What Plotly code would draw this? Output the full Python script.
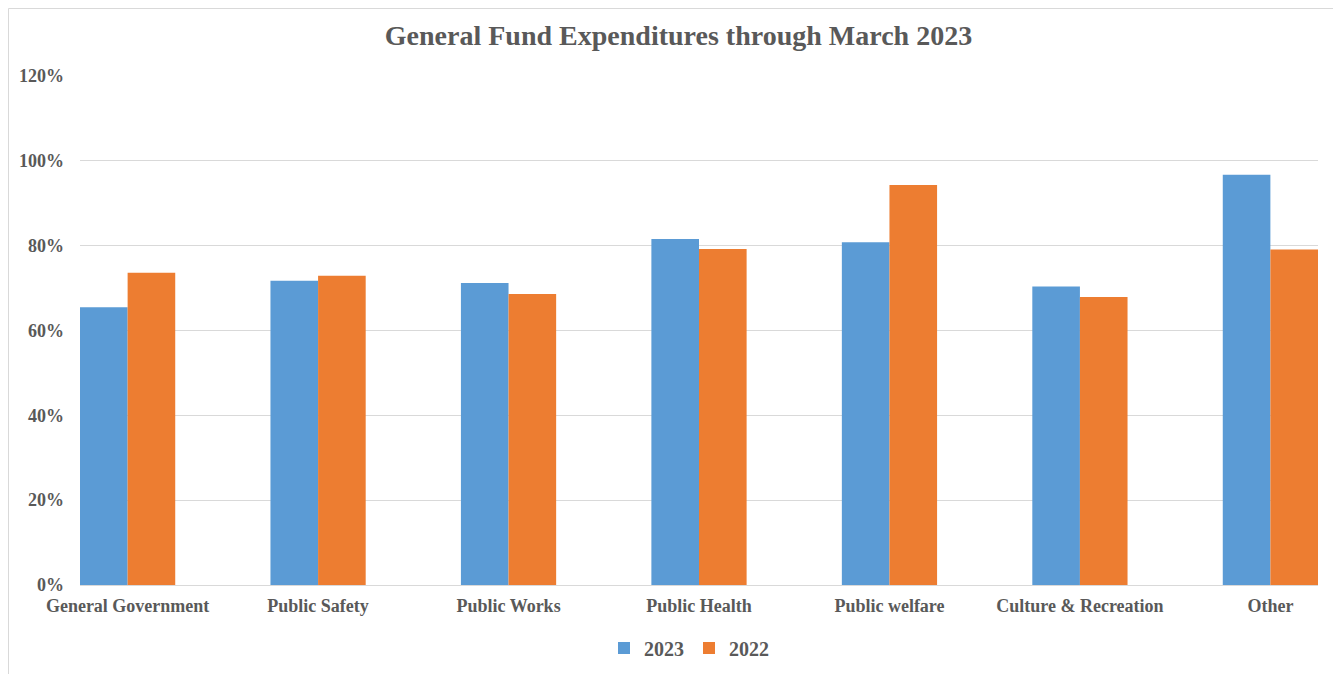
import plotly.graph_objects as go

categories = ["General Government", "Public Safety", "Public Works", "Public Health",
              "Public welfare", "Culture & Recreation", "Other"]
values_2023 = [0.655, 0.717, 0.712, 0.816, 0.808, 0.704, 0.967]
values_2022 = [0.736, 0.729, 0.686, 0.792, 0.943, 0.679, 0.791]
y_ticks = [0, 0.2, 0.4, 0.6, 0.8, 1.0, 1.2]
y_tick_labels = ["0%", "20%", "40%", "60%", "80%", "100%", "120%"]

W, H = 1341, 674
# page body adds an 8px offset; compensate
OFF = 8
L, T = 80 - OFF, 76 - OFF
R = W - (1318 - OFF)
B = H - (585 - OFF)
pw, ph = W - L - R, H - T - B

FONT = "Liberation Serif, Times New Roman, serif"
GRAY = "#595959"

fig = go.Figure()
fig.add_trace(go.Bar(x=categories, y=values_2023, name="<b>2023</b>",
                     marker=dict(color="#5B9BD5", line=dict(width=0))))
fig.add_trace(go.Bar(x=categories, y=values_2022, name="<b>2022</b>",
                     marker=dict(color="#ED7D31", line=dict(width=0))))

def fx(p):  # screen px -> paper x
    return (p - OFF - L) / pw

def fy(p):  # screen px -> paper y
    return (H - B - (p - OFF)) / ph

fig.update_layout(
    width=W, height=H,
    margin=dict(l=L, r=R, t=T, b=B, autoexpand=False),
    paper_bgcolor="white", plot_bgcolor="white",
    barmode="group", bargap=0.5, bargroupgap=0,
    title=dict(text="<b>General Fund Expenditures through March 2023</b>",
               x=0.5, xanchor="center", y=1 - (35 - OFF) / H, yanchor="middle",
               font=dict(family=FONT, size=28, color=GRAY)),
    font=dict(family=FONT, color=GRAY),
    legend=dict(orientation="h", x=fx(689), xanchor="center", y=fy(648), yanchor="middle",
                font=dict(family=FONT, size=20, color=GRAY), itemwidth=30,
                bgcolor="rgba(0,0,0,0)"),
    showlegend=True,
    shapes=[dict(type="rect", xref="paper", yref="paper",
                 x0=(0.5 - L) / pw, x1=(1336 - OFF - L) / pw,
                 y0=(H - B - 0.5) / ph, y1=(H - B - 700) / ph,
                 line=dict(color="#D9D9D9", width=1), fillcolor="rgba(0,0,0,0)", layer="below")],
)
fig.update_xaxes(range=[-0.25, 6.25], showgrid=False, showline=True, linecolor="#D9D9D9", linewidth=1,
                 ticks="", tickfont=dict(family=FONT, size=18, color=GRAY),
                 tickprefix="<b>", ticksuffix="</b>", ticklabelstandoff=4)
fig.update_yaxes(range=[0, 1.2], tickvals=y_ticks, ticktext=["<b>%s</b>" % t for t in y_tick_labels],
                 showgrid=True, gridcolor="#D9D9D9", gridwidth=1, zeroline=False, showline=False,
                 ticks="", tickfont=dict(family=FONT, size=18, color=GRAY), ticklabelstandoff=15)

fig.write_html("out.html")
